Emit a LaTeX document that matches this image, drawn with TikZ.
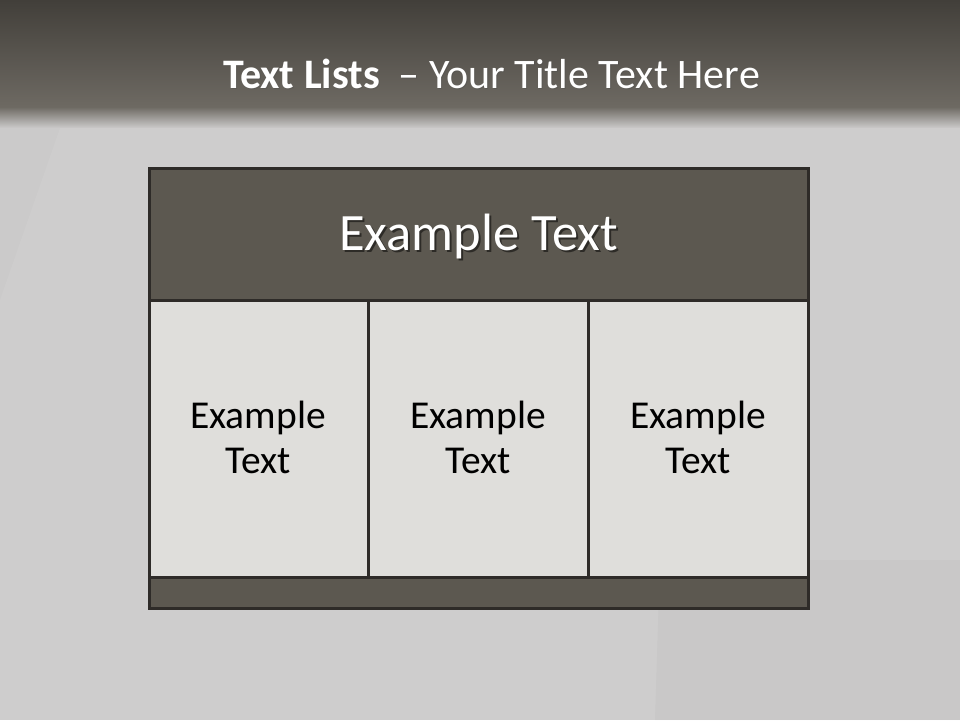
\documentclass[tikz,border=0pt]{standalone}
\usepackage{fontspec}
\setmainfont{Carlito}
\definecolor{bgtop}{HTML}{423F3A}
\definecolor{bgmid}{HTML}{6E6A63}
\definecolor{bglight}{HTML}{CBCACA}
\definecolor{darkfill}{HTML}{5C5850}
\definecolor{lightfill}{HTML}{DFDEDB}
\definecolor{edge}{HTML}{2E2B28}
\tikzset{
  cell/.style={draw=edge, line width=3pt},
  celltext/.style={font=\fontsize{39.5}{45}\selectfont, text=black, align=center, anchor=base},
}
\begin{document}
\begin{tikzpicture}[x=1pt,y=-1pt]
\useasboundingbox (0,0) rectangle (960,720);
% background
\fill[bglight] (0,0) rectangle (960,720);
\fill[top color=bgtop, bottom color=bgmid] (0,0) rectangle (960,108);
\fill[top color=bgmid, bottom color=bglight] (0,107) rectangle (960,128);
\fill[white, opacity=0.06] (60,128) -- (960,128) -- (960,720) -- (0,720) -- (0,300) -- cycle;
\fill[black, opacity=0.025] (660,560) -- (960,560) -- (960,720) -- (655,720) -- cycle;
% title
\node[anchor=base, text=black!70, opacity=0.35, font=\fontsize{42}{48}\selectfont] at (492.5,89.5) {\textbf{Text Lists}\ \ – Your Title Text Here};
\node (title) [anchor=base, text=white, font=\fontsize{42}{48}\selectfont] at (491.5,88) {\textbf{Text Lists}\ \ – Your Title Text Here};
% table
\path[cell, fill=darkfill] (149,168) rectangle (808,300);
\path[cell, fill=lightfill] (149,300) rectangle (368,577);
\path[cell, fill=lightfill] (368,300) rectangle (588,577);
\path[cell, fill=lightfill] (588,300) rectangle (808,577);
\path[cell, fill=darkfill] (149,577) rectangle (808,608);
\node[anchor=base, text=black, opacity=0.5, font=\fontsize{52.5}{58}\selectfont] at (480.5,252) {Example Text};
\node (head) [anchor=base, text=white, font=\fontsize{52.5}{58}\selectfont] at (478.5,250) {Example Text};
\node (c1) [celltext] at (258,473) {Example\\Text};
\node (c2) [celltext] at (478,473) {Example\\Text};
\node (c3) [celltext] at (698,473) {Example\\Text};
\end{tikzpicture}
\end{document}
